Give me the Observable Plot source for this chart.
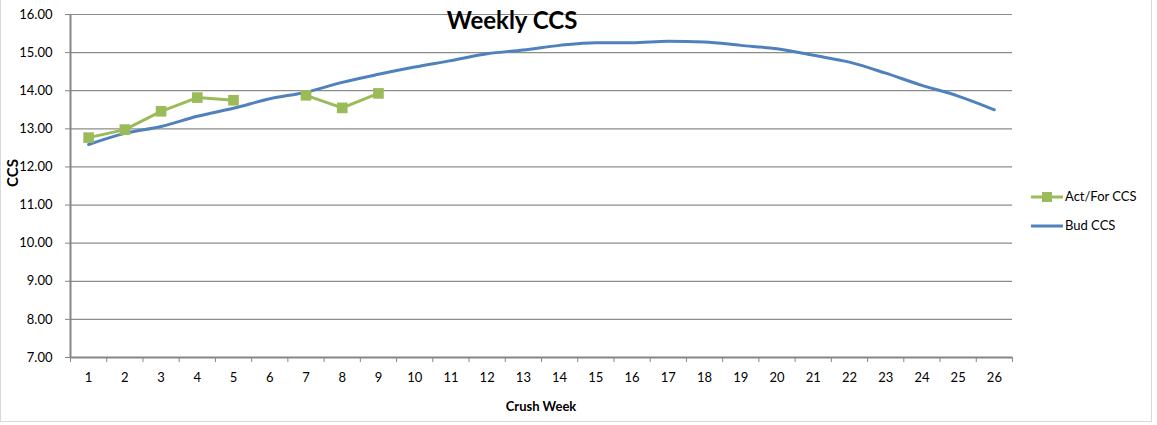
<!DOCTYPE html>
<html>
<head>
<meta charset="utf-8">
<script src="https://cdn.jsdelivr.net/npm/d3@7"></script>
<script src="https://cdn.jsdelivr.net/npm/@observablehq/plot@0.6"></script>
<style>
  body { margin: 0; background: #fff; font-family: Lato, "Open Sans", sans-serif; }
  #wrap { position: relative; width: 1157px; height: 425px; overflow: hidden; }
  #frame { position: absolute; left: 0; top: -1px; width: 1152px; height: 423px; border: 1px solid #d9d9d9; box-sizing: border-box; }
  #chart { position: absolute; left: 0; top: 0; }
  .t { position: absolute; color: #000; white-space: nowrap; }
  #title { left: 512px; top: 5px; transform: translateX(-50%); font-size: 24px; font-weight: bold; }
  #ytitle { left: 12px; top: 173px; transform: translate(-50%,-50%) rotate(-90deg); font-size: 15px; font-weight: bold; }
  #xtitle { left: 541px; top: 398px; transform: translateX(-50%); font-size: 13px; font-weight: bold; }
  .leg { position: absolute; left: 1031px; height: 16px; font-size: 13px; }
  .leg svg { position: absolute; left: 0; top: 0; }
  .leg span { position: absolute; left: 34px; top: -1px; white-space: nowrap; }
</style>
</head>
<body>
<div id="wrap">
  <div id="frame"></div>
  <div id="chart"></div>
  <div class="t" id="title">Weekly CCS</div>
  <div class="t" id="ytitle">CCS</div>
  <div class="t" id="xtitle">Crush Week</div>
  <div class="leg" style="top:189px;">
    <svg width="34" height="16"><line x1="0" y1="8" x2="32" y2="8" stroke="#9BBB59" stroke-width="3"/><rect x="11" y="3" width="10" height="10" fill="#9BBB59"/></svg>
    <span>Act/For CCS</span>
  </div>
  <div class="leg" style="top:218px;">
    <svg width="34" height="16"><line x1="0" y1="8" x2="32" y2="8" stroke="#4F81BD" stroke-width="3"/></svg>
    <span>Bud CCS</span>
  </div>
</div>
<script>
const weeks = Array.from({length: 26}, (_, i) => i + 1);
const actFor = [12.77, 12.98, 13.46, 13.82, 13.75, null, 13.88, 13.55, 13.93];
const bud = [12.59, 12.88, 13.06, 13.33, 13.54, 13.79, 13.96, 14.22, 14.43, 14.62,
             14.79, 14.97, 15.07, 15.19, 15.26, 15.26, 15.30, 15.28, 15.19, 15.10,
             14.93, 14.75, 14.46, 14.14, 13.86, 13.50];
const yTicks = [7, 8, 9, 10, 11, 12, 13, 14, 15, 16];

const actData = actFor.map((v, i) => ({week: weeks[i], v}));
const budData = bud.map((v, i) => ({week: weeks[i], v}));
const bounds = d3.range(0.5, 27, 1);

const chart = Plot.plot({
  width: 1157,
  height: 425,
  marginLeft: 70,
  marginRight: 145,
  marginTop: 14,
  marginBottom: 68,
  style: {fontFamily: "Lato, 'Open Sans', sans-serif", fontSize: "13px", color: "#000", background: "transparent"},
  x: {type: "linear", domain: [0.5, 26.5]},
  y: {domain: [7, 16]},
  marks: [
    Plot.ruleY(yTicks.slice(1), {stroke: "#8c8c8c", strokeWidth: 1.2}),
    Plot.axisY(yTicks, {tickSize: 5, tickPadding: 13, tickFormat: d3.format(".2f"), stroke: "#868686", label: null}),
    Plot.axisX(bounds, {tickSize: 5, tickFormat: () => "", stroke: "#868686", label: null}),
    Plot.axisX(weeks, {tickSize: 0, tickPadding: 15, label: null}),
    Plot.ruleY([7], {stroke: "#868686", strokeWidth: 2}),
    Plot.ruleX([0.5], {stroke: "#868686", strokeWidth: 2}),
    Plot.line(budData, {x: "week", y: "v", stroke: "#4F81BD", strokeWidth: 3, curve: "monotone-x"}),
    Plot.line(actData, {x: "week", y: "v", stroke: "#9BBB59", strokeWidth: 3, defined: d => d.v != null}),
    Plot.dot(actData.filter(d => d.v != null), {x: "week", y: "v", symbol: "square", r: 6, fill: "#9BBB59", stroke: "none"})
  ]
});
document.getElementById("chart").appendChild(chart);
</script>
</body>
</html>
